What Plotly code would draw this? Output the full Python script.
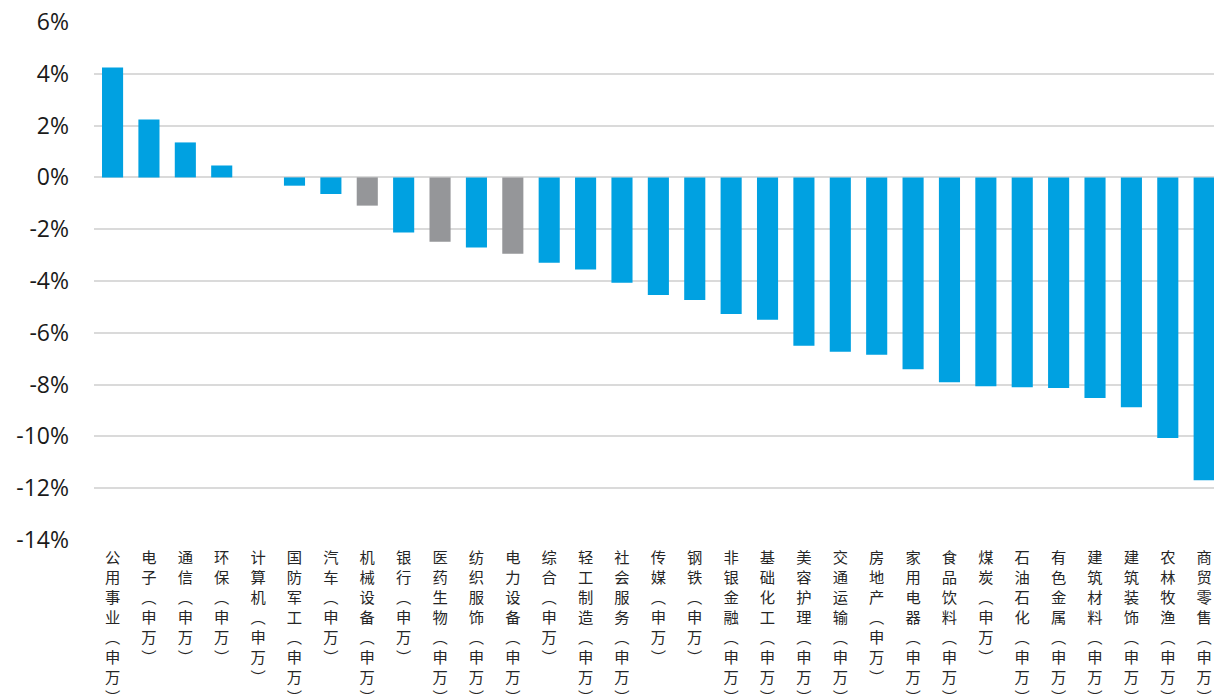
import plotly.graph_objects as go

# Shenwan level-1 industries and their period returns (%)
categories = [
    "公用事业(申万)", "电子(申万)", "通信(申万)", "环保(申万)", "计算机(申万)",
    "国防军工(申万)", "汽车(申万)", "机械设备(申万)", "银行(申万)", "医药生物(申万)",
    "纺织服饰(申万)", "电力设备(申万)", "综合(申万)", "轻工制造(申万)", "社会服务(申万)",
    "传媒(申万)", "钢铁(申万)", "非银金融(申万)", "基础化工(申万)", "美容护理(申万)",
    "交通运输(申万)", "房地产(申万)", "家用电器(申万)", "食品饮料(申万)", "煤炭(申万)",
    "石油石化(申万)", "有色金属(申万)", "建筑材料(申万)", "建筑装饰(申万)", "农林牧渔(申万)",
    "商贸零售(申万)",
]
returns_pct = [
    4.24, 2.24, 1.35, 0.46, 0.0,
    -0.32, -0.64, -1.09, -2.13, -2.48,
    -2.71, -2.95, -3.30, -3.56, -4.07,
    -4.54, -4.73, -5.27, -5.50, -6.50,
    -6.73, -6.85, -7.41, -7.91, -8.06,
    -8.10, -8.13, -8.52, -8.87, -10.06,
    -11.69,
]
highlighted = ["机械设备(申万)", "医药生物(申万)", "电力设备(申万)"]
y_ticks = [6, 4, 2, 0, -2, -4, -6, -8, -10, -12, -14]
y_tick_labels = [f"{v}%" for v in y_ticks]

BLUE = "#00A1E1"
GREY = "#959699"
GRID = "#DADADA"

bar_colors = [GREY if c in highlighted else BLUE for c in categories]


def stacked(name):
    """Write a category name top-to-bottom, one glyph per line."""
    glyphs = name.replace("(", "︵").replace(")", "︶")
    return "<br>".join(glyphs)


fig = go.Figure(
    go.Bar(
        x=categories,
        y=returns_pct,
        width=0.58,
        marker=dict(color=bar_colors, line=dict(width=0)),
        hovertemplate="%{x}: %{y:.2f}%<extra></extra>",
    )
)

fig.update_layout(
    width=1214,
    height=694,
    margin=dict(l=94, r=0, t=22, b=154),
    paper_bgcolor="white",
    plot_bgcolor="white",
    showlegend=False,
    xaxis=dict(
        range=[-0.51, 30.27],
        tickmode="array",
        tickvals=categories,
        ticktext=[stacked(c) for c in categories],
        tickangle=0,
        tickfont=dict(family="Noto Sans CJK SC", size=15.3, color="#262626"),
        ticklabelstandoff=7,
        automargin=False,
        showgrid=False,
        zeroline=False,
        showline=False,
        ticks="",
    ),
    yaxis=dict(
        range=[-14, 6],
        tickvals=y_ticks,
        ticktext=y_tick_labels,
        automargin=False,
        showgrid=True,
        gridcolor=GRID,
        gridwidth=2,
        zeroline=True,
        zerolinecolor=GRID,
        zerolinewidth=2,
        showline=False,
        ticks="",
        ticklabelstandoff=24,
        tickfont=dict(family="Open Sans", size=23, color="#1a1a1a"),
    ),
)

fig.write_html("out.html")
